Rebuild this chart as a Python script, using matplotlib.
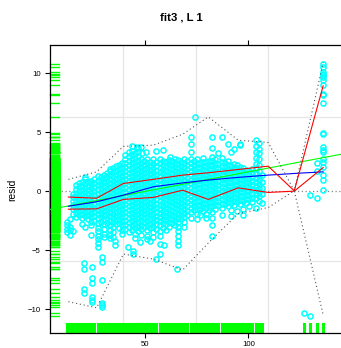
import numpy as np
import matplotlib
matplotlib.use('Agg')
import matplotlib.pyplot as plt
import matplotlib.transforms as mtrans

plt.rcParams['font.family'] = ['Liberation Sans', 'DejaVu Sans']

# dense residual cloud, one column of points per x value
cloud = {
    12.0: [-2.6, -2.9, -3.2, -3.5],
    13.5: [-3.0, -3.3, -3.7, -2.4],
    15.0: [-1.9, -1.5, -1.2, -0.8, -0.5, -0.2, -3.4],
    16.5: [-2.2, -1.85, -1.5, -1.2, -0.85, -0.5, -0.2, 0.15, 0.5],
    18.0: [-2.0, -1.7, -1.35, -1.0, -0.7, -0.35, 0.0, 0.35, 0.7],
    19.5: [-2.3, -1.95, -1.6, -1.25, -0.9, -0.55, -0.2, 0.1, 0.45, 0.8, -2.8],
    21.0: [-2.1, -1.8, -1.45, -1.1, -0.75, -0.4, -0.05, 0.3, 0.65, 1.0, 1.2, -3.0],
    22.5: [-2.4, -2.0, -1.65, -1.3, -0.95, -0.6, -0.25, 0.1, 0.45, 0.8],
    24.0: [-2.2, -1.85, -1.5, -1.15, -0.8, -0.45, -0.1, 0.25, 0.6, 0.9, -2.6, -2.9, -3.7],
    25.5: [-2.5, -2.1, -1.75, -1.4, -1.05, -0.7, -0.35, 0.0, 0.35, 0.7, 1.05],
    27.0: [-2.3, -1.95, -1.6, -1.25, -0.9, -0.55, -0.2, 0.15, 0.5, 0.85, 1.3,
           -2.7, -3.1, -3.4, -3.8, -4.1, -4.4, -4.7],
    28.5: [-2.6, -2.2, -1.85, -1.5, -1.15, -0.8, -0.45, -0.1, 0.25, 0.6, 0.95, 1.2],
    30.0: [-2.4, -2.05, -1.7, -1.35, -1.0, -0.65, -0.3, 0.05, 0.4, 0.75, 1.1, 1.4, -2.8, -3.2, -3.6, -3.9],
    31.5: [-2.7, -2.3, -1.95, -1.6, -1.25, -0.9, -0.55, -0.2, 0.15, 0.5, 0.85, 1.2, 1.5],
    33.0: [-2.5, -2.15, -1.8, -1.45, -1.1, -0.75, -0.4, -0.05, 0.3, 0.65, 1.0, 1.35, 1.7, 1.9,
           -2.9, -3.3, -3.7, -4.0],
    34.5: [-3.0, -2.6, -2.25, -1.9, -1.55, -1.2, -0.85, -0.5, -0.15, 0.2, 0.55, 0.9, 1.25, 1.6, 1.95,
           -3.5, -3.9],
    36.0: [-2.8, -2.45, -2.1, -1.75, -1.4, -1.05, -0.7, -0.35, 0.0, 0.35, 0.7, 1.05, 1.4, 1.75, 2.1],
    37.5: [-3.1, -2.7, -2.35, -2.0, -1.65, -1.3, -0.95, -0.6, -0.25, 0.1, 0.45, 0.8, 1.15, 1.5, 1.85, 2.2],
    39.0: [-2.9, -2.55, -2.2, -1.85, -1.5, -1.15, -0.8, -0.45, -0.1, 0.25, 0.6, 0.95, 1.3, 1.65, 2.0, 2.4,
           -3.3, -3.6],
    40.5: [-3.2, -2.85, -2.5, -2.15, -1.8, -1.45, -1.1, -0.75, -0.4, -0.05, 0.3, 0.65, 1.0, 1.35, 1.7,
           2.05, 2.4, 2.75, 3.1],
    42.0: [-3.0, -2.65, -2.3, -1.95, -1.6, -1.25, -0.9, -0.55, -0.2, 0.15, 0.5, 0.85, 1.2, 1.55, 1.9,
           2.25, 2.6, 2.95, 3.3, -3.5],
    43.5: [-3.3, -2.9, -2.55, -2.2, -1.85, -1.5, -1.15, -0.8, -0.45, -0.1, 0.25, 0.6, 0.95, 1.3, 1.65,
           2.0, 2.35, 2.7, 3.05, 3.4, 3.8],
    45.0: [-3.1, -2.75, -2.4, -2.05, -1.7, -1.35, -1.0, -0.65, -0.3, 0.05, 0.4, 0.75, 1.1, 1.45, 1.8,
           2.15, 2.5, 2.85, 3.2, -3.6, -4.0],
    46.5: [-3.4, -3.0, -2.65, -2.3, -1.95, -1.6, -1.25, -0.9, -0.55, -0.2, 0.15, 0.5, 0.85, 1.2, 1.55,
           1.9, 2.25, 2.6, 2.95, 3.3, 3.7],
    48.0: [-3.2, -2.85, -2.5, -2.15, -1.8, -1.45, -1.1, -0.75, -0.4, -0.05, 0.3, 0.65, 1.0, 1.35, 1.7,
           2.05, 2.4, 2.75, -3.7],
    49.5: [-3.0, -2.65, -2.3, -1.95, -1.6, -1.25, -0.9, -0.55, -0.2, 0.15, 0.5, 0.85, 1.2, 1.55, 1.9,
           2.25, 2.6],
    51.0: [-3.3, -2.9, -2.55, -2.2, -1.85, -1.5, -1.15, -0.8, -0.45, -0.1, 0.25, 0.6, 0.95, 1.3, 1.65,
           2.0, 2.35, 2.7, -3.8, -4.1],
    52.5: [-3.1, -2.75, -2.4, -2.05, -1.7, -1.35, -1.0, -0.65, -0.3, 0.05, 0.4, 0.75, 1.1, 1.45, 1.8,
           2.15, 2.5, -4.2],
    54.0: [-3.0, -2.6, -2.25, -1.9, -1.55, -1.2, -0.85, -0.5, -0.15, 0.2, 0.55, 0.9, 1.25, 1.6, 1.95,
           2.3, 2.7, -3.5, -3.9],
    55.5: [-3.2, -2.8, -2.45, -2.1, -1.75, -1.4, -1.05, -0.7, -0.35, 0.0, 0.35, 0.7, 1.05, 1.4, 1.75,
           2.1, 2.45],
    57.0: [-2.9, -2.55, -2.2, -1.85, -1.5, -1.15, -0.8, -0.45, -0.1, 0.25, 0.6, 0.95, 1.3, 1.65, 2.0,
           2.35, 2.7, -3.4, -3.8, -4.5],
    58.5: [-3.1, -2.7, -2.35, -2.0, -1.65, -1.3, -0.95, -0.6, -0.25, 0.1, 0.45, 0.8, 1.15, 1.5, 1.85,
           2.2, 2.55],
    60.0: [-2.8, -2.45, -2.1, -1.75, -1.4, -1.05, -0.7, -0.35, 0.0, 0.35, 0.7, 1.05, 1.4, 1.75, 2.1,
           2.45, -3.3],
    61.5: [-3.0, -2.6, -2.25, -1.9, -1.55, -1.2, -0.85, -0.5, -0.15, 0.2, 0.55, 0.9, 1.25, 1.6, 1.95,
           2.3, 2.65],
    63.0: [-2.7, -2.35, -2.0, -1.65, -1.3, -0.95, -0.6, -0.25, 0.1, 0.45, 0.8, 1.15, 1.5, 1.85, 2.2, 2.55],
    64.5: [-2.9, -2.5, -2.15, -1.8, -1.45, -1.1, -0.75, -0.4, -0.05, 0.3, 0.65, 1.0, 1.35, 1.7, 2.05,
           2.4, 2.75],
    66.0: [-2.6, -2.25, -1.9, -1.55, -1.2, -0.85, -0.5, -0.15, 0.2, 0.55, 0.9, 1.25, 1.6, 1.95, 2.3,
           2.65, -3.0, -3.4, -3.8, -4.2, -4.6],
    67.5: [-2.4, -2.05, -1.7, -1.35, -1.0, -0.65, -0.3, 0.05, 0.4, 0.75, 1.1, 1.45, 1.8, 2.15, 2.5],
    69.0: [-2.2, -1.85, -1.5, -1.15, -0.8, -0.45, -0.1, 0.25, 0.6, 0.95, 1.3, 1.65, 2.0, 2.35, 2.7,
           -2.6, -3.0],
    70.5: [-2.0, -1.65, -1.3, -0.95, -0.6, -0.25, 0.1, 0.45, 0.8, 1.15, 1.5, 1.85, 2.2, 2.55],
    72.0: [-1.8, -1.45, -1.1, -0.75, -0.4, -0.05, 0.3, 0.65, 1.0, 1.35, 1.7, 2.05, 2.4, 2.75, 3.3,
           4.0, 4.6, -2.3],
    73.5: [-1.6, -1.25, -0.9, -0.55, -0.2, 0.15, 0.5, 0.85, 1.2, 1.55, 1.9, 2.25, 2.6],
    75.0: [-1.9, -1.5, -1.15, -0.8, -0.45, -0.1, 0.25, 0.6, 0.95, 1.3, 1.65, 2.0, 2.35, 2.7, -2.4],
    76.5: [-1.5, -1.15, -0.8, -0.45, -0.1, 0.25, 0.6, 0.95, 1.3, 1.65, 2.0, 2.35, -2.0],
    78.0: [-1.7, -1.35, -1.0, -0.65, -0.3, 0.05, 0.4, 0.75, 1.1, 1.45, 1.8, 2.15, 2.5, 2.85],
    79.5: [-1.4, -1.05, -0.7, -0.35, 0.0, 0.35, 0.7, 1.05, 1.4, 1.75, 2.1, 2.45, -1.9, -2.3],
    81.0: [-1.6, -1.25, -0.9, -0.55, -0.2, 0.15, 0.5, 0.85, 1.2, 1.55, 1.9, 2.25, 2.6],
    82.5: [-1.3, -0.95, -0.6, -0.25, 0.1, 0.45, 0.8, 1.15, 1.5, 1.85, 2.2, 2.55, 2.9, 3.7, 4.6,
           -1.8, -2.3, -2.9, -3.8],
    84.0: [-1.5, -1.15, -0.8, -0.45, -0.1, 0.25, 0.6, 0.95, 1.3, 1.65, 2.0, 2.35, 2.7],
    85.5: [-1.2, -0.85, -0.5, -0.15, 0.2, 0.55, 0.9, 1.25, 1.6, 1.95, 2.3, 3.25],
    87.0: [-1.4, -1.05, -0.7, -0.35, 0.0, 0.35, 0.7, 1.05, 1.4, 1.75, 2.1, 2.45, 2.8, 4.6, -2.0],
    88.5: [-1.1, -0.75, -0.4, -0.05, 0.3, 0.65, 1.0, 1.35, 1.7, 2.05, 2.4],
    90.0: [-1.3, -0.95, -0.6, -0.25, 0.1, 0.45, 0.8, 1.15, 1.5, 1.85, 2.2, 2.55, 4.0],
    91.5: [-1.0, -0.65, -0.3, 0.05, 0.4, 0.75, 1.1, 1.45, 1.8, 2.15, 3.35, -1.6, -2.1],
    93.0: [-1.2, -0.85, -0.5, -0.15, 0.2, 0.55, 0.9, 1.25, 1.6, 1.95, 2.3, 3.6],
    94.5: [-0.9, -0.55, -0.2, 0.15, 0.5, 0.85, 1.2, 1.55, 1.9, 2.2, -1.7],
    96.0: [-1.1, -0.75, -0.4, -0.05, 0.3, 0.65, 1.0, 1.35, 1.7, 2.05, 3.9, 4.0],
    97.5: [-0.8, -0.45, -0.1, 0.25, 0.6, 0.95, 1.3, 1.65, 2.0, -1.5, -2.0],
    99.0: [-1.0, -0.65, -0.3, 0.05, 0.4, 0.75, 1.1, 1.45, 1.8],
    100.5: [-0.7, -0.35, 0.0, 0.35, 0.7, 1.05, 1.4, 1.75, -1.3],
    102.0: [-0.9, -0.55, -0.2, 0.15, 0.5, 0.85, 1.2, 1.55, 1.9],
    103.5: [-0.6, -0.25, 0.1, 0.45, 0.8, 1.15, 1.5, 1.85, 2.3, 2.8, 3.3, 3.8, 4.3, -1.4],
    105.0: [-0.8, -0.45, -0.1, 0.25, 0.6, 0.95, 1.3, 1.7, 2.2, 2.7, 3.2, 3.6, 4.1],
    106.5: [-1.0, -0.28, 0.28, 0.8, 1.4],
}

# isolated points away from the cloud
out_x = [20.5, 20.5, 24.1, 24.1, 24.1, 20.5, 20.5, 24.3, 24.3, 24.3, 29.0, 29.0, 29.0, 29.0, 29.0, 29.0,
         35.4, 35.4, 41.9, 44.3, 44.3, 47.6, 55.5, 57.3, 59.2, 65.4, 74.3, 48.6, 55.5, 58.8, 45.9,
         48.2, 50.7, 62.0, 126.8, 129.8, 129.8, 133.0, 133.0, 133.0]
out_y = [-6.1, -6.6, -6.4, -7.4, -7.8, -8.3, -8.6, -8.96, -9.2, -9.4, -5.57, -6.0, -7.5, -9.5, -9.66, -9.85,
         -4.2, -4.6, -4.7, -5.1, -5.3, -4.3, -5.76, -5.3, -4.55, -6.6, 6.3, 3.2, 3.4, 3.47, 3.77,
         3.77, 3.3, 2.9, -10.3, -10.6, -0.35, -0.55, 1.7, 2.4]
end_x = 136.3
end_y = [10.8, 10.5, 10.1, 9.97, 9.83, 9.69, 9.47, 9.04, 8.28, 8.14, 7.52, 4.9, 4.83, 3.75, 3.47, 3.28,
         2.69, 2.48, 2.06, 1.36, 0.93, 0.14]

# binned summaries
bins = [12.9, 26.6, 39.5, 54.0, 68.2, 80.6, 95.1, 109.6, 122.2, 136.2]
q_hi = [-0.5, -0.6, 0.65, 1.0, 1.36, 1.56, 1.84, 2.12, 0.03, 8.94]
q_lo = [-1.53, -1.5, -0.7, -0.53, 0.08, -0.7, 0.28, -0.11, 0.0, 2.0]
env_hi = [1.0, 1.64, 3.8, 3.9, 4.83, 6.3, 4.32, 4.13, 0.03, 10.9]
env_lo = [-9.38, -9.89, -5.34, -5.76, -6.69, -4.4, -1.9, -1.39, 0.03, -10.5]
smooth = [-1.28, -0.9, -0.34, 0.37, 0.7, 0.94, 1.17, 1.36, 1.5, 1.64]
lin_x = [4.0, 146.0]
lin_y = [-1.55, 3.17]

xs, ys = [], []
for cx, col in cloud.items():
    xs += [cx] * len(col)
    ys += col
xs += out_x + [end_x] * len(end_y)
ys += out_y + end_y

W, H = 341, 348
fig = plt.figure(figsize=(W / 100, H / 100), dpi=100)
ax = fig.add_axes([50 / W, (H - 333.3) / H, 293 / W, 288.3 / H])
ax.set_xlim(4.0, 145.8)
ax.set_ylim(-12.06, 12.4)

for g in [39.5, 74.7, 109.6]:
    ax.axvline(g, color='#e6e6e6', lw=0.9, zorder=0)
for g in [6.27, -5.93]:
    ax.axhline(g, color='#e6e6e6', lw=0.9, zorder=0)
ax.axhline(0, color='#888888', lw=0.9, ls=(0, (1, 2)), zorder=1)

ax.plot(xs, ys, 'o', mfc='none', mec='#00ffff', ms=3.7, mew=1.1, zorder=2)

ax.plot(lin_x, lin_y, color='#00ff00', lw=0.8, zorder=3)
ax.plot(bins, smooth, color='#0000ff', lw=0.8, zorder=3)
ax.plot(bins, q_hi, color='#ff0000', lw=0.8, zorder=4)
ax.plot(bins, q_lo, color='#ff0000', lw=0.8, zorder=4)
ax.plot(bins, env_hi, color='#555555', lw=0.8, ls=(0, (1, 2.5)), zorder=4)
ax.plot(bins, env_lo, color='#555555', lw=0.8, ls=(0, (1, 2.5)), zorder=4)

# rugs
tl = mtrans.blended_transform_factory(ax.transAxes, ax.transData)
tb = mtrans.blended_transform_factory(ax.transData, ax.transAxes)
for y in ys:
    ax.plot([0, 0.031], [y, y], color='#00ff00', lw=1.0, transform=tl, zorder=2, clip_on=False)
for x in sorted(set(xs)):
    ax.plot([x, x], [0, 0.031], color='#00ff00', lw=2.2, transform=tb, zorder=2)

ax.set_xticks([50, 100])
ax.set_yticks([-10, -5, 0, 5, 10])
ax.tick_params(axis='both', direction='out', length=3.6, width=0.8, labelsize=5.6, pad=3.2,
               colors='black', top=True, labeltop=False, right=False)
ax.tick_params(axis='x', pad=1.8)
for s in ax.spines.values():
    s.set_linewidth(0.9)

fig.text(181.3 / W, 1 - 17 / H, 'fit3 , L 1', ha='center', va='center', fontsize=8.2, fontweight='bold')
fig.text(12.7 / W, 1 - 190 / H, 'resid', rotation=90, ha='center', va='center', fontsize=7.4)

fig.savefig('out.png', dpi=100, facecolor='white')
